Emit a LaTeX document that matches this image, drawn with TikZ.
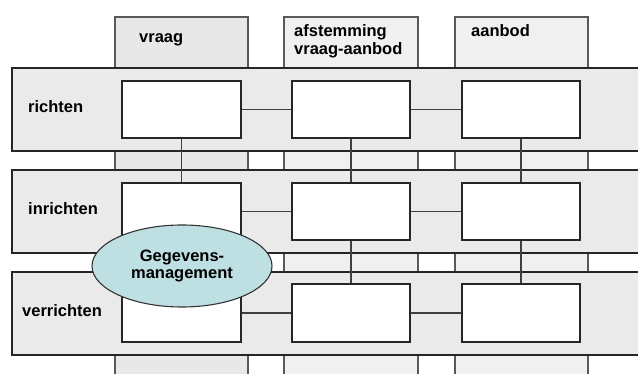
\documentclass[tikz,border=0pt]{standalone}
\usepackage{fontspec}
\setmainfont{Liberation Sans}
\usetikzlibrary{shapes.geometric}
\definecolor{ellfill}{RGB}{190,224,226}
\definecolor{bandfill}{RGB}{234,234,234}
\definecolor{colfill}{RGB}{240,240,240}
\definecolor{colfilldark}{RGB}{232,232,232}
\begin{document}
\begin{tikzpicture}[x=1pt,y=-1pt,
  col/.style={draw=black!65,fill=colfill,line width=1.1pt},
  band/.style={draw=black!85,fill=bandfill,line width=1.1pt},
  cell/.style={draw=black!85,fill=white,line width=1.1pt,minimum width=119pt,minimum height=57pt,inner sep=0pt},
  link/.style={draw=black!75,line width=1.1pt},
  lbl/.style={font=\fontsize{16.5}{18}\selectfont\bfseries,inner sep=0pt,anchor=base west}]
\useasboundingbox (0,0) rectangle (638,374);
\clip (0,0) rectangle (638,374);
% columns
\draw[col,fill=colfilldark] (115,17) rectangle (248,380);
\draw[col] (284,17) rectangle (418,380);
\draw[col] (455,17) rectangle (588,380);
% bands
\draw[band] (12,68) rectangle (645,151);
\draw[band] (12,170) rectangle (645,253);
\draw[band] (12,272) rectangle (645,355);
% headers
\node[lbl] (hvraag) at (139,43) {vraag};
\node[lbl] (hafst1) at (294,37) {afstemming};
\node[lbl] (hafst2) at (294,55) {vraag-aanbod};
\node[lbl] (haanbod) at (471,37) {aanbod};
% row labels
\node[lbl] (lricht) at (28,113) {richten};
\node[lbl] (linricht) at (28,215) {inrichten};
\node[lbl] (lverricht) at (22,317) {verrichten};
% cells
\node[cell] (r1) at (181.5,109.5) {};
\node[cell,minimum width=118pt] (r2) at (351,109.5) {};
\node[cell,minimum width=118pt] (r3) at (521,109.5) {};
\node[cell] (i1) at (181.5,211.5) {};
\node[cell,minimum width=118pt] (i2) at (351,211.5) {};
\node[cell,minimum width=118pt] (i3) at (521,211.5) {};
\node[cell,minimum height=58pt] (v1) at (181.5,313) {};
\node[cell,minimum width=118pt,minimum height=58pt] (v2) at (351,313) {};
\node[cell,minimum width=118pt,minimum height=58pt] (v3) at (521,313) {};
% connectors
\draw[link] (r1.east) -- (r2.west);
\draw[link] (r2.east) -- (r3.west);
\draw[link] (i1.east) -- (i2.west);
\draw[link] (i2.east) -- (i3.west);
\draw[link] (v1.east) -- (v2.west);
\draw[link] (v2.east) -- (v3.west);
\draw[link] (r1.south) -- (i1.north);
\draw[link] (r2.south) -- (i2.north);
\draw[link] (r3.south) -- (i3.north);
\draw[link] (i2.south) -- (v2.north);
\draw[link] (i3.south) -- (v3.north);
% ellipse
\node[ellipse,draw=black!80,line width=1.1pt,fill=ellfill,minimum width=180pt,minimum height=82pt,inner sep=0pt,
  align=center,font=\fontsize{16.5}{17.5}\selectfont\bfseries] (gm) at (182,266) {Gegevens-\\management};
\end{tikzpicture}
\end{document}
